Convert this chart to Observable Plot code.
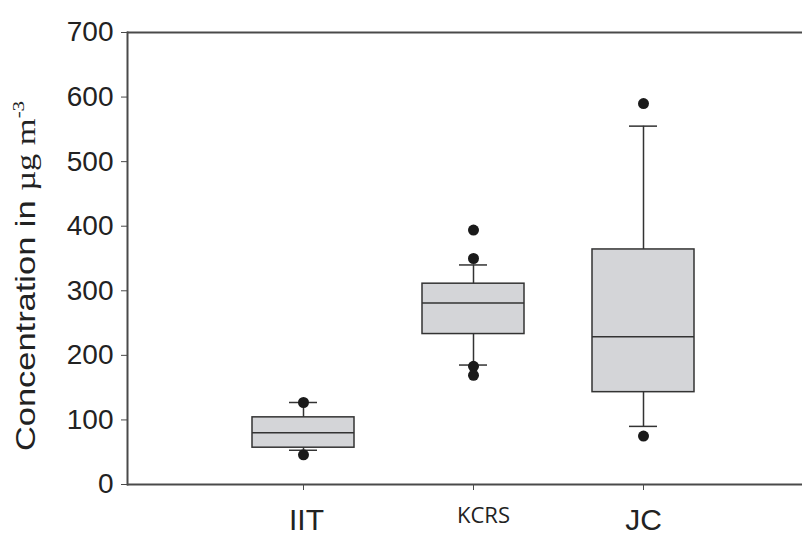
<!DOCTYPE html>
<html>
<head>
<meta charset="utf-8">
<script src="https://cdn.jsdelivr.net/npm/d3@7"></script>
<script src="https://cdn.jsdelivr.net/npm/@observablehq/plot@0.6"></script>
<style>
  html, body { margin: 0; padding: 0; background: #fff; }
  #chart svg { display: block; }
</style>
</head>
<body>
<div id="chart"></div>
<script>
// ---- data ----
const sites = ["IIT", "KCRS", "JC"];
const q1 = [57, 233, 143];
const median = [80, 281, 229];
const q3 = [104, 311, 364];
const whiskerLow = [53, 185, 90];
const whiskerHigh = [127, 340, 555];
const outlierSite = ["IIT", "IIT", "KCRS", "KCRS", "KCRS", "KCRS", "JC", "JC"];
const outlierValue = [127, 46, 394, 350, 183, 169, 590, 75];
const yTicks = [0, 100, 200, 300, 400, 500, 600, 700];

const boxes = sites.map((s, i) => ({
  site: s, q1: q1[i], median: median[i], q3: q3[i], lo: whiskerLow[i], hi: whiskerHigh[i]
}));
const outliers = outlierSite.map((s, i) => ({site: s, value: outlierValue[i]}));

const axisColor = "#4a4a4a";
const lineColor = "#333";

const plot = Plot.plot({
  width: 802,
  height: 534,
  marginLeft: 127,
  marginRight: 0,
  marginTop: 32,
  marginBottom: 50,
  style: {background: "#fff", color: "#222", fontFamily: "Liberation Sans, Arial, sans-serif"},
  x: {
    type: "band",
    domain: sites,
    range: [127, 818],
    paddingInner: 0.402,
    paddingOuter: 0.729,
    axis: null
  },
  y: {domain: [0, 700], axis: null},
  marks: [
    // whiskers
    Plot.ruleX(boxes, {x: "site", y1: "lo", y2: "hi", stroke: lineColor, strokeWidth: 1.5}),
    Plot.tickY(boxes, {x: "site", y: "lo", stroke: lineColor, strokeWidth: 1.5, insetLeft: 37, insetRight: 37}),
    Plot.tickY(boxes, {x: "site", y: "hi", stroke: lineColor, strokeWidth: 1.5, insetLeft: 37, insetRight: 37}),
    // boxes
    Plot.barY(boxes, {x: "site", y1: "q1", y2: "q3", fill: "#d4d5d8", stroke: lineColor, strokeWidth: 1.5}),
    Plot.tickY(boxes, {x: "site", y: "median", stroke: lineColor, strokeWidth: 1.5}),
    // outliers
    Plot.dot(outliers, {x: "site", y: "value", r: 5.5, fill: "#1a1a1a", stroke: "none"}),
    // frame lines
    Plot.ruleY([0, 700], {stroke: axisColor, strokeWidth: 2}),
    Plot.frame({anchor: "left", stroke: axisColor, strokeWidth: 2}),
    // y axis
    Plot.axisY({ticks: yTicks, tickSize: 6, tickPadding: 8, fontSize: 28, label: null, stroke: axisColor, fill: "#222"}),
    // x axis ticks
    Plot.axisX({tickSize: 6, tickFormat: () => "", label: null, stroke: axisColor}),
    // x labels
    Plot.text(["IIT"], {x: d => d, frameAnchor: "bottom", lineAnchor: "bottom", dy: 45, dx: 3, fontSize: 30, fill: "#222"}),
    Plot.text(["JC"], {x: d => d, frameAnchor: "bottom", lineAnchor: "bottom", dy: 45, fontSize: 30, fill: "#222"}),
    Plot.text(["KCRS"], {x: d => d, frameAnchor: "bottom", lineAnchor: "bottom", dy: 38, dx: 10, fontSize: 22, fill: "#222", fontFamily: "Open Sans, sans-serif"})
  ]
});

// y-axis title with mixed fonts
const svg = d3.select(plot);
const t = svg.append("text")
  .attr("transform", "translate(35,276) rotate(-90) scale(1.23,1)")
  .attr("text-anchor", "middle")
  .attr("fill", "#222");
t.append("tspan").attr("font-family", "Liberation Sans, Arial, sans-serif").attr("font-size", 28).text("Concentration in ");
t.append("tspan").attr("font-family", "Liberation Serif, Times New Roman, serif").attr("font-size", 28).text("\u00b5g m");
t.append("tspan").attr("font-family", "Liberation Serif, Times New Roman, serif").attr("font-size", 17).attr("dy", -11).text("-3");

document.getElementById("chart").appendChild(plot);
</script>
</body>
</html>
